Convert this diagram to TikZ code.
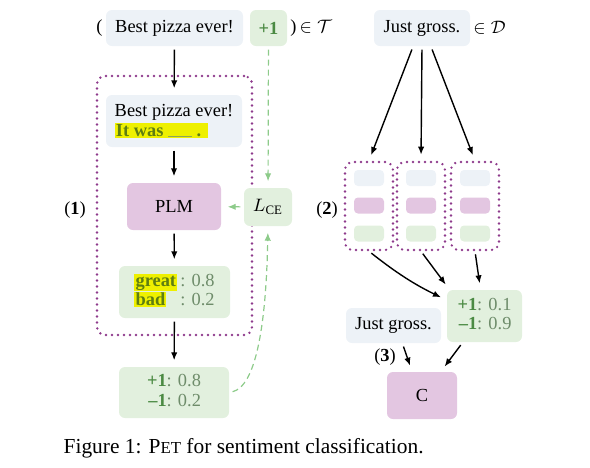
\documentclass[tikz,border=0pt]{standalone}
\usepackage{fontspec}
\setmainfont{Liberation Serif}
\usepackage{amsmath}
\usepackage{amssymb}
\usepackage{xcolor}
\usepackage{tikz}
\usetikzlibrary{arrows.meta,calc}

\definecolor{sentbg}{HTML}{EDF2F7}
\definecolor{plmbg}{HTML}{E3C6E1}
\definecolor{probbg}{HTML}{E2F0DE}
\definecolor{framec}{HTML}{8E3A8C}
\definecolor{labgreen}{HTML}{4B8A43}
\definecolor{valgray}{HTML}{6E8C6A}
\definecolor{hlyellow}{HTML}{EEF000}
\definecolor{hltext}{HTML}{5E7E12}
\definecolor{lossc}{HTML}{8DCB8A}

\newcommand{\hlword}[1]{{\setlength{\fboxsep}{0.6pt}\colorbox{hlyellow}{\textbf{\color{hltext}#1}}}}
\newcommand{\lbl}[1]{\textbf{\color{labgreen}#1}}
\newcommand{\val}[1]{{\color{valgray}#1}}

\begin{document}
\begin{tikzpicture}[x=0.5pt,y=-0.5pt,>={Latex[length=4pt,width=3.2pt]},line width=0.7pt,
  font=\fontsize{9.2}{11}\selectfont,
  sent/.style={fill=sentbg,rounded corners=3pt,minimum height=18pt,inner sep=2pt},
  plm/.style={fill=plmbg,rounded corners=3pt,inner sep=2pt},
  prob/.style={fill=probbg,rounded corners=3pt,inner sep=2pt},
  dotframe/.style={draw=framec,line width=1.3pt,dash pattern=on 0pt off 3pt,line cap=round,rounded corners=4pt},
  mini/.style={minimum width=15pt,minimum height=8pt,rounded corners=2pt,inner sep=0pt},
  arr/.style={->,shorten >=3pt,shorten <=1.5pt},
  loss/.style={draw=lossc,line width=0.6pt,dash pattern=on 3pt off 2pt,-{Latex[length=4pt,width=3.2pt]},shorten >=3pt,shorten <=1.5pt}]
  \useasboundingbox (0,0) rectangle (590,467);

  % (1) training on labeled data
  \node[sent,minimum width=68.5pt] (x) at (174.5,28) {Best pizza ever!};
  \node[prob,minimum width=18.5pt,minimum height=18pt,text=labgreen,font=\fontsize{9.2}{11}\selectfont\bfseries] (y) at (268.5,28) {+1};
  \node[anchor=east,inner sep=1pt] (lpar) at (x.west) {(};
  \node[anchor=west,inner sep=1pt] (inT) at (y.east) {)\,$\in\mathcal{T}$};

  \node[dotframe,minimum width=77.5pt,minimum height=129.5pt] (f0) at (174.5,205.5) {};
  \node[sent,minimum width=68pt,minimum height=26pt,align=left] (pat) at (174,121)
    {Best pizza ever!\\[-1pt]\hlword{It was {\color{hltext!70}\rule[-0.3pt]{12pt}{0.3pt}}\ .\hspace{3pt}}};
  \node[plm,minimum width=47pt,minimum height=23.5pt] (plm) at (174,206.5) {PLM};
  \node[prob,minimum width=24pt,minimum height=19pt] (lce) at (268,207) {$L_{\mathrm{CE}}$};
  \node[prob,minimum width=55.5pt,minimum height=26pt] (vb) at (174.5,292)
    {\renewcommand{\arraystretch}{0.9}\begin{tabular}{@{}l@{\,}l@{}}
      \hlword{great} & \val{: 0.8}\\
      \hlword{bad} & \val{: 0.2}
    \end{tabular}};
  \node[prob,minimum width=55pt,minimum height=25.5pt] (out) at (174,392.5)
    {\renewcommand{\arraystretch}{0.9}\begin{tabular}{@{}r@{}l@{}}
      \lbl{+1} & \val{: 0.8}\\
      \lbl{\textendash1} & \val{: 0.2}
    \end{tabular}};
  \node (l1) at (75,210) {(\textbf{1})};

  \draw[arr] (x) -- (pat);
  \draw[arr] (pat) -- (plm);
  \draw[arr] (plm) -- (vb);
  \draw[arr] (vb) -- (out);
  \draw[loss] (y) -- (lce);
  \draw[loss] (lce) -- (plm);
  \draw[loss] (out.east) .. controls (255,386) and (266,330) .. (lce.south);

  % (2) soft labels for unlabeled data
  \node[sent,minimum width=48pt] (xu) at (422,28) {Just gross.};
  \node[anchor=west,inner sep=1pt] (inD) at (xu.east) {$\in\mathcal{D}$};
  \foreach \i/\cx in {1/369,2/421,3/475} {
    \node[dotframe,minimum width=24pt,minimum height=44pt] (f\i) at (\cx,206) {};
    \node[mini,fill=sentbg] (f\i a) at (\cx,178) {};
    \node[mini,fill=plmbg] (f\i b) at (\cx,205.5) {};
    \node[mini,fill=probbg] (f\i c) at (\cx,233.5) {};
  }
  \node (l2) at (327,210) {(\textbf{2})};
  \node[prob,minimum width=37.5pt,minimum height=26pt] (res) at (484.5,316)
    {\renewcommand{\arraystretch}{0.9}\begin{tabular}{@{}r@{}l@{}}
      \lbl{+1} & \val{: 0.1}\\
      \lbl{\textendash1} & \val{: 0.9}
    \end{tabular}};

  \draw[arr] ([xshift=-4.5pt]xu.south) -- (f1.north);
  \draw[arr] (xu.south) -- (f2.north);
  \draw[arr] ([xshift=4.5pt]xu.south) -- (f3.north);
  \draw[arr] (f1.south) to[bend right=6] ([yshift=8pt]res.west);
  \draw[arr] (f2.south) -- ([xshift=1.5pt]res.north west);
  \draw[arr] (f3.south) -- ([xshift=-2pt]res.north);

  % (3) final classifier
  \node[sent,minimum width=47.5pt,minimum height=17.5pt] (xu2) at (393.5,325.5) {Just gross.};
  \node[plm,minimum width=35pt,minimum height=23.5pt] (clf) at (422,395.5) {C};
  \node (l3) at (385,357) {(\textbf{3})};
  \draw[arr] ([xshift=4.5pt]xu2.south) -- ([xshift=-5pt]clf.north);
  \draw[arr] ([xshift=-11pt]res.south) -- ([xshift=9.5pt]clf.north);

  \node[anchor=west,inner sep=0pt,font=\fontsize{10.7}{13}\selectfont] (cap) at (63,448)
    {Figure 1: P{\fontsize{8.4}{10}\selectfont ET} for sentiment classification.};
\end{tikzpicture}
\end{document}
